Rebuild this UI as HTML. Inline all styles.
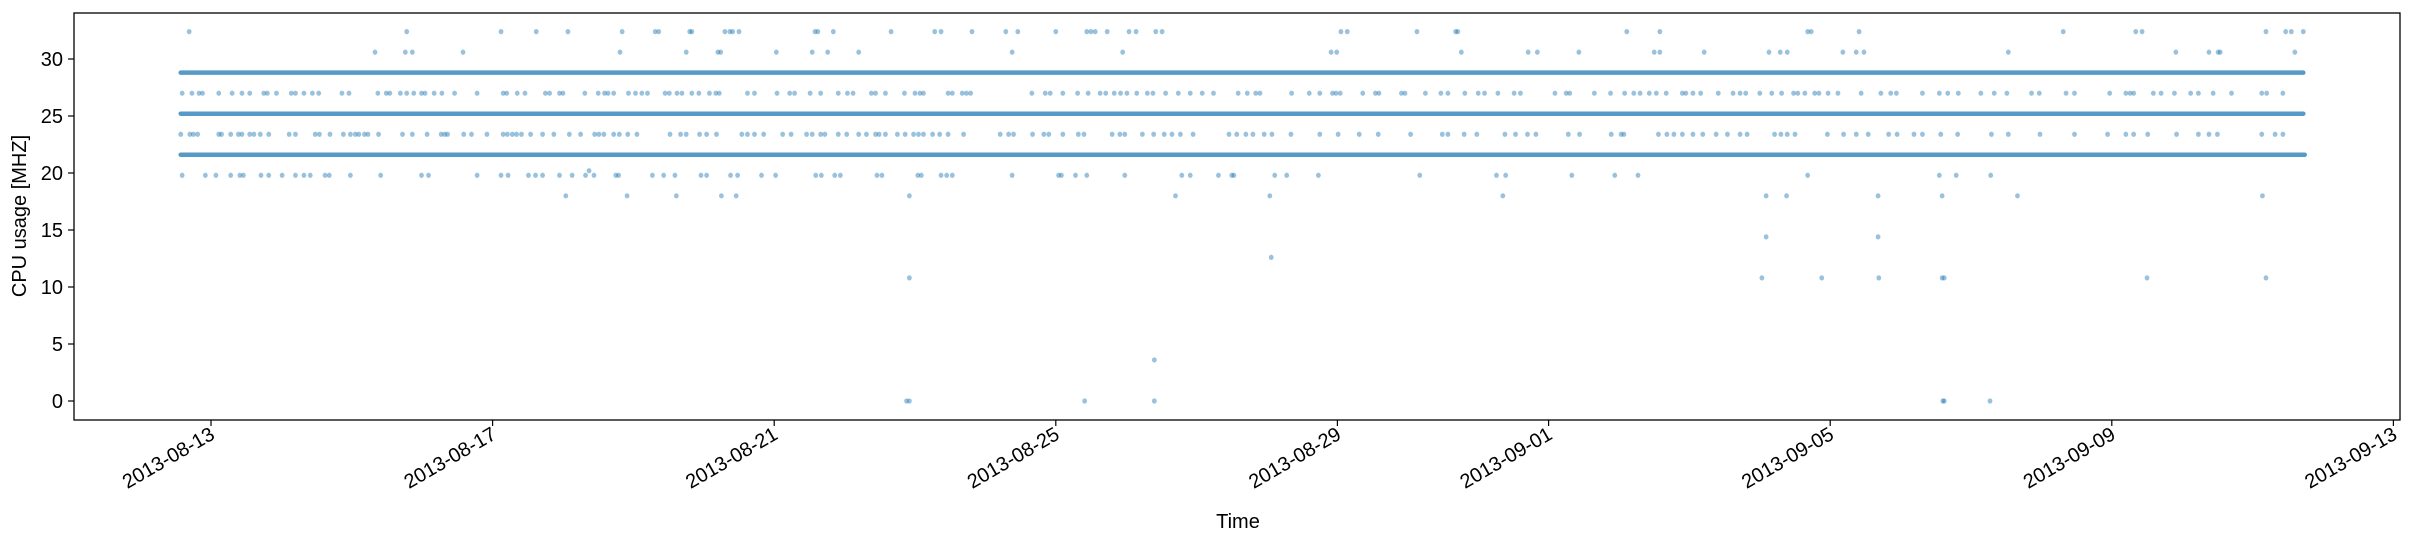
<!DOCTYPE html>
<html><head><meta charset="utf-8"><style>
html,body{margin:0;padding:0;background:#fff;}
svg{display:block;font-family:"Liberation Sans",sans-serif;}
</style></head><body>
<svg id="chart" width="2411" height="544" viewBox="0 0 2411 544" xmlns="http://www.w3.org/2000/svg">
<rect width="2411" height="544" fill="#fff"/>
<g id="bands"></g>
<g id="points"></g>
<rect x="74" y="13" width="2326" height="407" fill="none" stroke="#000" stroke-width="1.3"/>
<g id="yaxis"></g>
<g id="xaxis"></g>
<text transform="translate(26,216) rotate(-90)" text-anchor="middle" font-size="20">CPU usage [MHZ]</text>
<text x="1238" y="528" text-anchor="middle" font-size="20">Time</text>
</svg>
<script>
// tick data
const yTicks = [0, 5, 10, 15, 20, 25, 30];
const xTickDays = [0, 4, 8, 12, 16, 19, 23, 27, 31];
const xTickLabels = ["2013-08-13","2013-08-17","2013-08-21","2013-08-25","2013-08-29","2013-09-01","2013-09-05","2013-09-09","2013-09-13"];
// dense levels (days since 2013-08-13)
const bandValues = [21.6, 25.2, 28.8];
const bandStart = [-0.43, -0.43, -0.43];
const bandEnd = [29.74, 29.72, 29.72];
// sparse points
const t324 = [-0.31,2.78,4.12,4.62,5.07,5.84,6.31,6.36,6.80,6.83,7.30,7.37,7.41,7.50,8.58,8.62,8.84,9.66,10.28,10.37,10.81,11.29,11.46,12.0,12.44,12.5,12.56,12.73,13.04,13.14,13.42,13.51,16.05,16.14,17.13,17.68,17.71,20.11,20.58,22.68,22.73,23.41,26.31,27.34,27.43,29.19,29.47,29.55,29.72];
const t306 = [2.33,2.76,2.86,3.58,5.81,6.75,7.2,7.24,8.03,8.54,8.76,9.2,11.38,12.95,15.91,15.99,17.76,18.71,18.84,19.43,20.5,20.58,21.21,22.13,22.29,22.39,23.18,23.37,23.48,25.53,27.91,28.38,28.51,28.54,29.6];
const t270 = [-0.41,-0.27,-0.17,-0.12,0.11,0.30,0.44,0.55,0.75,0.80,0.93,1.14,1.20,1.32,1.44,1.53,1.86,1.96,2.37,2.49,2.54,2.69,2.78,2.88,2.99,3.04,3.17,3.28,3.46,3.78,4.15,4.2,4.35,4.46,4.75,4.81,4.95,5.0,5.31,5.5,5.59,5.64,5.72,5.93,6.03,6.12,6.2,6.45,6.51,6.62,6.69,6.83,6.93,7.08,7.17,7.22,7.62,7.72,8.04,8.22,8.29,8.51,8.66,8.91,9.04,9.12,9.38,9.44,9.58,9.85,10.0,10.07,10.12,10.47,10.53,10.67,10.73,10.79,11.66,11.85,11.92,12.1,12.31,12.46,12.63,12.71,12.83,12.92,13.01,13.15,13.3,13.38,13.56,13.74,13.91,14.08,14.24,14.59,14.72,14.84,14.9,15.35,15.6,15.75,15.93,15.98,16.04,16.36,16.54,16.59,16.91,16.96,17.25,17.47,17.57,17.81,18.0,18.09,18.28,18.51,18.6,19.09,19.25,19.3,19.65,19.88,20.08,20.21,20.3,20.43,20.53,20.67,20.9,20.95,21.05,21.16,21.41,21.62,21.72,21.8,22.0,22.17,22.31,22.48,22.54,22.64,22.78,22.84,22.97,23.11,23.44,23.72,23.86,23.94,24.31,24.55,24.67,24.82,25.14,25.33,25.51,25.86,25.97,26.35,26.47,26.97,27.2,27.26,27.31,27.59,27.7,27.89,28.12,28.23,28.44,28.7,29.13,29.2,29.43];
const t234 = [-0.43,-0.3,-0.25,-0.19,0.11,0.15,0.28,0.39,0.44,0.55,0.61,0.7,0.82,1.11,1.2,1.48,1.54,1.69,1.88,1.98,2.05,2.1,2.18,2.23,2.38,2.72,2.86,3.07,3.27,3.32,3.36,3.59,3.7,3.92,4.15,4.21,4.28,4.34,4.41,4.54,4.71,4.87,5.09,5.25,5.45,5.51,5.58,5.72,5.8,5.92,6.05,6.52,6.67,6.75,6.94,7.04,7.18,7.54,7.62,7.72,7.85,8.12,8.24,8.46,8.54,8.66,8.72,8.91,9.03,9.2,9.31,9.44,9.49,9.58,9.75,9.86,9.98,10.05,10.12,10.25,10.35,10.47,10.69,11.21,11.33,11.4,11.67,11.83,11.9,12.1,12.32,12.4,12.8,12.91,12.98,13.23,13.39,13.54,13.65,13.77,13.95,14.46,14.57,14.7,14.8,14.96,15.07,15.34,15.75,16.01,16.31,16.58,17.04,17.49,17.57,17.8,17.98,18.38,18.53,18.7,18.82,19.28,19.44,19.89,20.03,20.07,20.56,20.68,20.78,20.9,21.05,21.19,21.38,21.54,21.72,21.82,22.21,22.3,22.39,22.5,22.96,23.19,23.37,23.54,23.83,23.95,24.19,24.31,24.57,24.81,25.29,25.53,25.98,26.47,26.94,27.2,27.31,27.51,27.92,28.23,28.38,28.5,29.13,29.32,29.43];
const t198 = [-0.41,-0.08,0.07,0.28,0.41,0.46,0.71,0.82,1.01,1.2,1.32,1.41,1.62,1.68,1.98,2.41,2.99,3.09,3.78,4.12,4.22,4.51,4.61,4.71,4.95,5.13,5.32,5.44,5.75,5.79,6.27,6.43,6.59,6.96,7.04,7.38,7.48,7.82,8.02,8.59,8.67,8.86,8.94,9.46,9.53,10.04,10.09,10.37,10.45,10.53,11.38,12.04,12.08,12.28,12.44,12.98,13.79,13.91,14.31,14.5,14.53,15.11,15.28,15.73,17.17,18.26,18.39,19.33,19.94,20.27,22.68,24.55,24.79,25.28];
const t180 = [5.04,5.91,6.61,7.25,7.46,9.92,13.7,15.04,18.35,22.09,22.38,23.68,24.59,25.66,29.14];
const t144 = [22.09,23.68];
const t126 = [15.06];
const t108 = [9.92,22.03,22.88,23.69,24.59,24.62,27.5,29.19];
const t36 = [13.4];
const t202 = [5.37];
const t0 = [9.88,9.92,12.41,13.4,24.6,24.62,25.27];
const sparseSeries = [t324, t306, t270, t234, t202, t198, t180, t144, t126, t108, t36, t0];
const sparseLevels = [32.4, 30.6, 27.0, 23.4, 20.2, 19.8, 18.0, 14.4, 12.6, 10.8, 3.6, 0];

const NS = "http://www.w3.org/2000/svg";
function xs(d){ return 211 + d * 70.4; }
function ys(v){ return 401 - v * 11.4; }

const bandsG = document.getElementById("bands");
bandValues.forEach((v, i) => {
  const l = document.createElementNS(NS, "line");
  
  
  l.setAttribute("x1", xs(bandStart[i])); l.setAttribute("x2", xs(bandEnd[i]));
  l.setAttribute("y1", ys(v)); l.setAttribute("y2", ys(v));
  l.setAttribute("stroke", "#1f77b4"); l.setAttribute("stroke-opacity", "0.75");
  l.setAttribute("stroke-width", "4.5"); l.setAttribute("stroke-linecap", "round");
  bandsG.appendChild(l);
});

const ptsG = document.getElementById("points");
sparseSeries.forEach((arr, si) => {
  arr.forEach(d => {
    const c = document.createElementNS(NS, "ellipse");
    
    
    c.setAttribute("cx", xs(d)); c.setAttribute("cy", ys(sparseLevels[si]));
    c.setAttribute("rx", "2.4"); c.setAttribute("ry", "2.6");
    c.setAttribute("fill", "#1f77b4"); c.setAttribute("fill-opacity", "0.45");
    ptsG.appendChild(c);
  });
});

const yG = document.getElementById("yaxis");
yTicks.forEach(v => {
  const t = document.createElementNS(NS, "line");
  
  
  t.setAttribute("x1", 68); t.setAttribute("x2", 74);
  t.setAttribute("y1", ys(v)); t.setAttribute("y2", ys(v));
  t.setAttribute("stroke", "#000"); t.setAttribute("stroke-width", "1.2");
  yG.appendChild(t);
  const tx = document.createElementNS(NS, "text");
  
  
  tx.setAttribute("x", 63); tx.setAttribute("y", ys(v) + 7);
  tx.setAttribute("text-anchor", "end"); tx.setAttribute("font-size", "20");
  tx.textContent = v;
  yG.appendChild(tx);
});

const xG = document.getElementById("xaxis");
xTickDays.forEach((d, i) => {
  const x = xs(d);
  const t = document.createElementNS(NS, "line");
  
  
  t.setAttribute("x1", x); t.setAttribute("x2", x);
  t.setAttribute("y1", 420); t.setAttribute("y2", 426);
  t.setAttribute("stroke", "#000"); t.setAttribute("stroke-width", "1.2");
  xG.appendChild(t);
  const tx = document.createElementNS(NS, "text");
  
  
  tx.setAttribute("transform", "translate(" + (x + 5) + ",438) rotate(-30)");
  tx.setAttribute("text-anchor", "end"); tx.setAttribute("font-size", "20");
  tx.textContent = xTickLabels[i];
  xG.appendChild(tx);
});
</script>
</body></html>
